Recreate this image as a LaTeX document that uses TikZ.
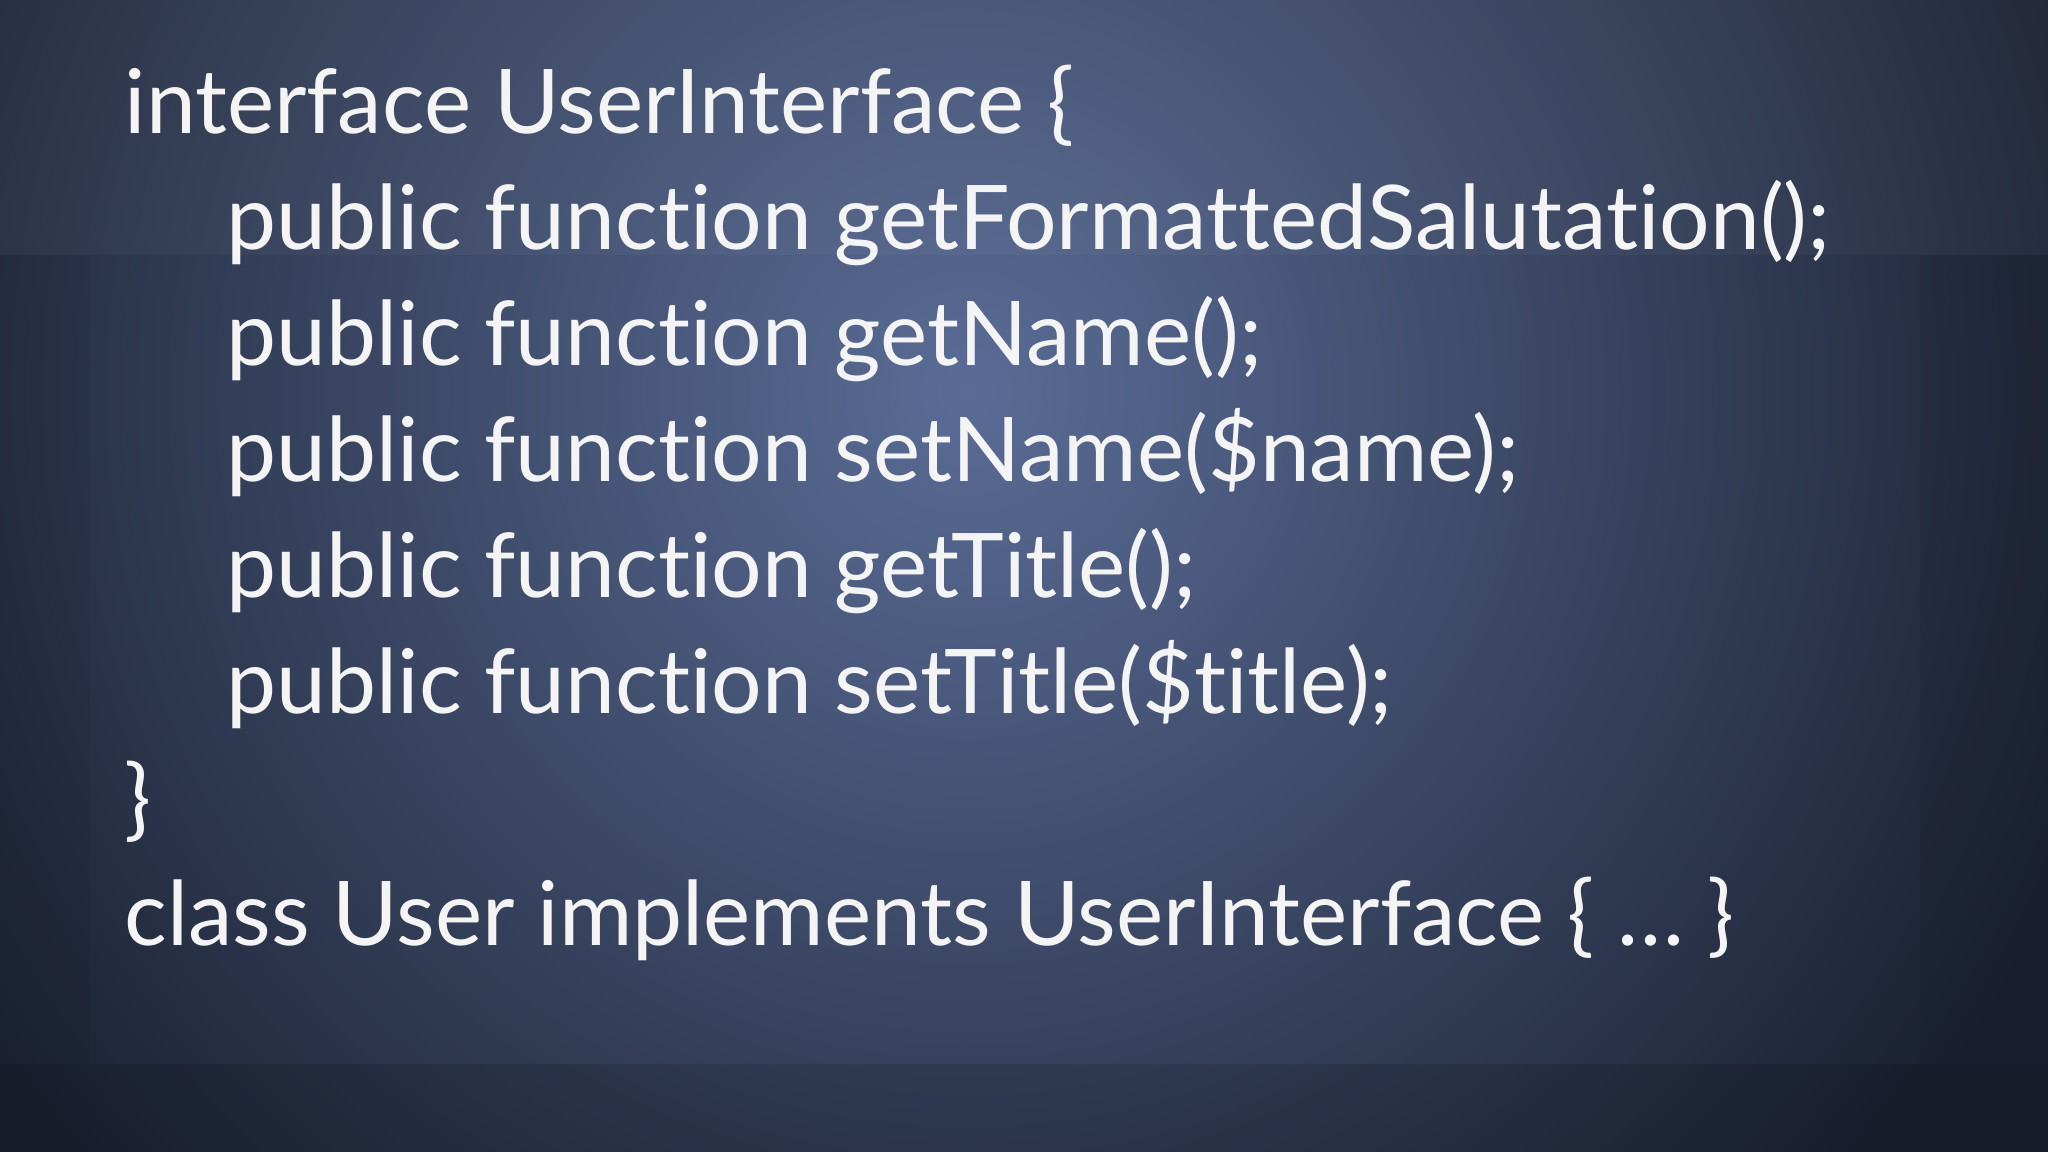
\documentclass[tikz,border=0pt]{standalone}
\usepackage{fontspec}
\setmainfont{Lato}[RawFeature={-liga;-dlig;-clig}]
\definecolor{bgin}{HTML}{5A6C96}
\definecolor{bgout}{HTML}{1A2030}
\definecolor{txt}{HTML}{F4F4F4}
\begin{document}
\begin{tikzpicture}[x=1cm,y=1cm,
  code/.style={anchor=base west,inner sep=0pt,text=txt,font=\fontsize{25.4}{29}\selectfont}]
\useasboundingbox (0,0) rectangle (20.48,11.52);
\begin{scope}
\clip (0,0) rectangle (20.48,11.52);
\shade[inner color=bgin,outer color=bgout] (9.66-12,7.6-12) rectangle (9.66+12,7.6+12);
\fill[black,opacity=0.12] (0,0) rectangle (20.48,0.88);
\fill[black,opacity=0.05] (0,0.88) rectangle (0.9,8.97);
\fill[black,opacity=0.05] (19.2,0.88) rectangle (20.48,8.97);
\fill[white,opacity=0.03] (0,8.97) rectangle (20.48,11.52);
\end{scope}
\node[code] (l1) at (1.24,10.18) {interface UserInterface \{};
\node[code] (l2) at (2.26,9.02) {public function getFormattedSalutation();};
\node[code] (l3) at (2.26,7.86) {public function getName();};
\node[code] (l4) at (2.26,6.70) {public function setName(\$name);};
\node[code] (l5) at (2.26,5.54) {public function getTitle();};
\node[code] (l6) at (2.26,4.38) {public function setTitle(\$title);};
\node[code] (l7) at (1.24,3.22) {\}};
\node[code] (l8) at (1.24,2.06) {class User implements UserInterface \{ … \}};
\end{tikzpicture}
\end{document}
